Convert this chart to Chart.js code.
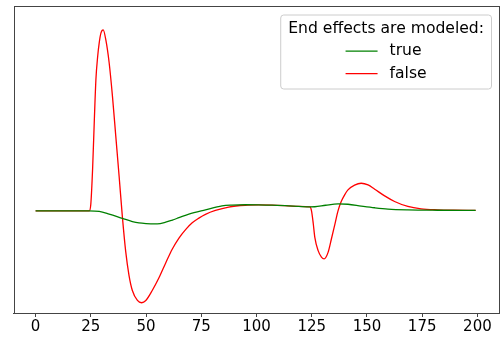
<!DOCTYPE html>
<html>
<head>
<meta charset="utf-8">
<script src="https://cdn.jsdelivr.net/npm/chart.js@4.4.0/dist/chart.umd.min.js"></script>
<style>
html,body{margin:0;padding:0;background:#fff;}
#wrap{width:501px;height:340px;position:relative;}
</style>
</head>
<body>
<div id="wrap"><canvas id="c" width="501" height="340"></canvas></div>
<script>
// ---- data ----
const legendTitle = "End effects are modeled:";
const seriesLabels = ["true", "false"];
const seriesColors = ["#008000", "#ff0000"];
const xTicks = [0, 25, 50, 75, 100, 125, 150, 175, 200];

const trueX = [0, 10, 20, 24, 28.8, 33.3, 39.3, 43.8, 46.8, 50, 55.1, 58.9, 61.9, 64.9, 69.4, 76.9, 84.4, 88.9, 95, 100.9, 107, 114.4, 119, 124.2, 126.4, 131.3, 136.9, 141.4, 147.4, 153.5, 159.5, 168.5, 182, 199.2];
const trueY = [0, 0, 0, 0, -0.6, -3.3, -7.6, -10.8, -12.2, -12.8, -13, -11.4, -9.3, -6.9, -3.3, 1, 5, 5.8, 6.1, 6, 5.7, 5, 4.5, 4, 4.1, 5.6, 6.9, 6.6, 4.8, 3.1, 1.8, 1, 0.6, 0.4];

const falseX = [0, 10, 20, 24.3, 25, 25.8, 26.6, 27.3, 28.1, 28.8, 29.6, 30.6, 31.8, 33.3, 34.8, 36.3, 37.8, 39.3, 40.8, 42.3, 43.8, 46.1, 48, 49.9, 52.8, 55.9, 58.9, 61.9, 64.9, 67.9, 70.9, 73.9, 76.9, 81.4, 87.4, 94.9, 100.9, 107, 114.4, 119, 124.2, 124.9, 125.7, 126.4, 127.9, 129.4, 130.6, 132.4, 133.9, 135.5, 136.9, 138.4, 139.9, 141.4, 144.4, 147.4, 150.5, 153.5, 158, 162.5, 168.5, 174.5, 182, 189.5, 199.2];
const falseY = [0, 0, 0, 0, 6.7, 41.7, 91.7, 131.7, 155, 168.7, 178.7, 181.7, 171.7, 148.7, 115, 75, 35, -6.3, -41, -65, -80, -90, -92.3, -90, -80, -67, -52.3, -38.3, -27.3, -18.8, -12, -7.3, -3.5, 0.4, 3.8, 5.6, 5.9, 5.7, 5, 4.5, 4, 0, -13, -26.7, -40, -46.5, -48.3, -41.7, -28.3, -13.3, 0, 9.5, 16, 21, 25.8, 27.7, 26, 21.7, 15, 9.4, 4.4, 2, 1, 0.6, 0.4];

const xMin = -10, xMax = 210;
const yMin = -102.6, yMax = 205.7;

const FONT = "'DejaVu Sans', sans-serif";
const FS = 15;
const LFS = 15.6;

function pts(xs, ys){ return xs.map((x,i)=>({x:x, y:ys[i]})); }

const framePlugin = {
  id: 'frame',
  afterDatasetsDraw(chart){
    const a = chart.chartArea, ctx = chart.ctx;
    ctx.save();
    ctx.strokeStyle = '#444';
    ctx.lineWidth = 1;
    ctx.strokeRect(Math.round(a.left)+0.5, Math.round(a.top)+0.5, Math.round(a.right)-Math.round(a.left)-1, Math.round(a.bottom)-Math.round(a.top));
    ctx.restore();
  }
};

const legendPlugin = {
  id: 'boxLegend',
  afterDraw(chart){
    const a = chart.chartArea, ctx = chart.ctx;
    ctx.save();
    ctx.font = LFS + "px " + FONT;
    const titleW = ctx.measureText(legendTitle).width;
    const w = titleW + 15;
    const rowH = 22.6;
    const h = 74;
    const right = a.right - 8;
    const left = right - w;
    const top = a.top + 9;
    const r = 3;
    ctx.beginPath();
    ctx.moveTo(left + r, top);
    ctx.lineTo(left + w - r, top);
    ctx.quadraticCurveTo(left + w, top, left + w, top + r);
    ctx.lineTo(left + w, top + h - r);
    ctx.quadraticCurveTo(left + w, top + h, left + w - r, top + h);
    ctx.lineTo(left + r, top + h);
    ctx.quadraticCurveTo(left, top + h, left, top + h - r);
    ctx.lineTo(left, top + r);
    ctx.quadraticCurveTo(left, top, left + r, top);
    ctx.closePath();
    ctx.fillStyle = 'rgba(255,255,255,0.8)';
    ctx.fill();
    ctx.strokeStyle = '#cccccc';
    ctx.lineWidth = 1;
    ctx.stroke();
    ctx.fillStyle = '#000';
    ctx.textBaseline = 'middle';
    ctx.textAlign = 'center';
    const cx = left + w/2;
    ctx.fillText(legendTitle, cx, top + 13.5);
    const ds = chart.data.datasets;
    ctx.textAlign = 'left';
    let maxLabel = 0;
    ds.forEach(d => { maxLabel = Math.max(maxLabel, ctx.measureText(d.label).width); });
    const handle = 32, gap = 12;
    const itemsW = handle + gap + maxLabel;
    const ix = cx - itemsW/2;
    ds.forEach((d, i) => {
      const y = top + 13.5 + rowH*(i+1);
      ctx.strokeStyle = d.borderColor;
      ctx.lineWidth = 1.3;
      ctx.beginPath();
      ctx.moveTo(ix, y);
      ctx.lineTo(ix + handle, y);
      ctx.stroke();
      ctx.fillStyle = '#000';
      ctx.fillText(d.label, ix + handle + gap, y);
    });
    ctx.restore();
  }
};

new Chart(document.getElementById('c'), {
  type: 'line',
  data: {
    datasets: [
      { label: seriesLabels[0], data: pts(trueX, trueY), borderColor: seriesColors[0], borderWidth: 1.3, pointRadius: 0, cubicInterpolationMode: 'monotone', fill: false },
      { label: seriesLabels[1], data: pts(falseX, falseY), borderColor: seriesColors[1], borderWidth: 1.3, pointRadius: 0, cubicInterpolationMode: 'monotone', fill: false }
    ]
  },
  options: {
    responsive: false,
    animation: false,
    events: [],
    layout: { padding: { left: 13.5, right: 1.5, top: 6, bottom: 3 } },
    plugins: { legend: { display: false }, tooltip: { enabled: false } },
    scales: {
      x: {
        type: 'linear', min: xMin, max: xMax,
        afterBuildTicks(scale){ scale.ticks = xTicks.map(v => ({ value: v })); },
        ticks: { color: '#000', font: { family: FONT, size: FS }, padding: 1, maxRotation: 0, autoSkip: false },
        grid: { drawOnChartArea: false, drawTicks: true, tickLength: 4, color: '#444', lineWidth: 1 },
        border: { display: true, color: '#444', width: 1 }
      },
      y: { display: false, min: yMin, max: yMax }
    }
  },
  plugins: [framePlugin, legendPlugin]
});
</script>
</body>
</html>
